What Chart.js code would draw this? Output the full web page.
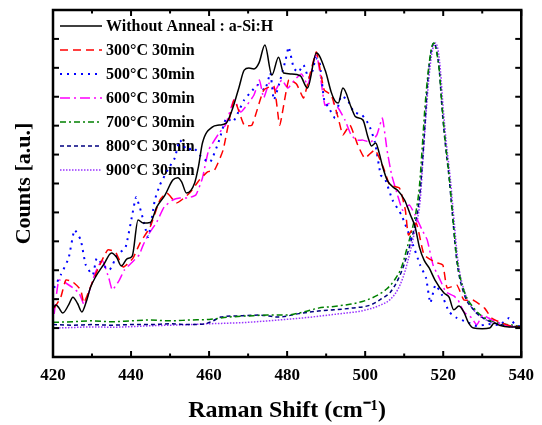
<!DOCTYPE html>
<html lang="en">
<head>
<meta charset="UTF-8">
<title>Raman spectra</title>
<style>
  html, body { margin: 0; padding: 0; background: #fff; }
  canvas { display: block; }
</style>
</head>
<body>
<canvas id="myChart" width="542" height="425"></canvas>
<script src="https://cdn.jsdelivr.net/npm/chart.js"></script>
<script>
// ---- data (Raman shift in cm-1, counts in a.u.) ----
const xMajorTicks = [420, 440, 460, 480, 500, 520, 540];
const xMinorTicks = [430, 450, 470, 490, 510, 530];
const yTicks = [0, 1, 2, 3, 4, 5, 6, 7, 8, 9, 10, 11, 12];

const labels = ['Without Anneal : a-Si:H', '300°C 30min', '500°C 30min', '600°C 30min',
                '700°C 30min', '800°C 30min', '900°C 30min'];

const noAnnealX = [420, 420.8, 421.5, 422.5, 424, 425.1, 426.3, 427.4, 428.5, 429.6, 430.9, 433, 435, 436.3, 437.5,
  439, 440.3, 441.8, 443.1, 444.9, 446.6, 448.7, 450.7, 452, 453, 454.2, 456.3, 457.3, 458.3, 460.8, 462.6, 464.4,
  465.9, 467.7, 469, 470.2, 471.5, 472.8, 474.3, 476.1, 477.8, 479.1, 481.1, 483.4, 485.2, 487.5, 489.8, 491.3,
  492.3, 493.1, 494.3, 496.4, 497.6, 499.4, 500.7, 501.6, 502.7, 503.6, 504.5, 505.7, 507.5, 508.3, 510.1, 511.6,
  512.8, 513.9, 515.1, 516.4, 517.9, 520.2, 521.5, 522.7, 524, 525.3, 526.5, 527.8, 530, 531.9, 533.1, 534.4,
  536.9, 540];
const noAnnealY = [1.7, 1.8, 1.7, 1.52, 1.8, 2.07, 1.85, 1.56, 1.9, 2.4, 2.77, 3.2, 3.6, 3.45, 3.15,
  3.4, 3.49, 4.74, 4.63, 4.65, 5.19, 5.6, 6.12, 6.2, 6.05, 5.67, 6.02, 6.6, 7.4, 7.95, 8.02, 8.09,
  8.54, 9.34, 9.92, 9.99, 9.96, 10.17, 10.79, 9.75, 10.37, 9.82, 9.79, 9.72, 9.3, 10.51, 9.9, 9.16,
  8.85, 8.78, 9.3, 8.64, 8.3, 8.2, 7.61, 7.3, 7.4, 7.05, 6.57, 6.1, 5.84, 5.77, 5.43, 4.91,
  4.5, 3.8, 3.35, 3.08, 2.66, 2.21, 2.07, 1.63, 1.76, 1.55, 1.18, 1.0, 0.98, 1.0, 1.18, 1.1,
  1.04, 1.04];

const c300X = [420.3, 422, 423.3, 425.1, 427.1, 427.9, 429.6, 431.4, 434, 436, 438, 440.5, 442.3, 444.9, 447.4,
  449.2, 451.7, 455, 457.5, 459.6, 461.4, 463.6, 466.4, 469, 471, 474, 476.6, 478.1, 480.4, 482.4, 484.2, 486,
  487.5, 489.5, 491.3, 493.1, 494.3, 496.1, 498.1, 499.9, 502.5, 504.7, 506.3, 508.8, 510.3, 511.1, 513.1, 515.1,
  517.9, 519.9, 521, 523.5, 525.3, 527.6, 530.6, 532.4, 534.9, 537.5, 540];
const c300Y = [1.69, 2.07, 2.66, 2.59, 2.32, 1.87, 2.42, 3.01, 3.7, 3.63, 3.11, 3.42, 3.94, 4.5, 5.43,
  5.67, 5.33, 5.67, 6.12, 6.4, 6.47, 7.16, 8.89, 8.02, 8.02, 9.23, 9.37, 8.02, 9.58, 9.44, 8.96, 9.85,
  10.55, 9.23, 9.06, 8.26, 7.68, 8.02, 7.33, 6.88, 7.16, 6.54, 5.95, 5.84, 5.08, 4.22, 4.63, 3.53,
  3.28, 3.18, 2.39, 2.49, 1.97, 1.97, 1.69, 1.35, 1.18, 1.07, 1.04];

const c500X = [420.3, 422, 424, 425.5, 427.1, 428.4, 430.2, 431.2, 432.8, 434.5, 436.5, 438.6, 440.3, 441.3, 442.6,
  444.4, 446.1, 447.4, 449.4, 451.2, 452.5, 454.3, 456.1, 458.3, 460.3, 462.6, 464.4, 466.1, 467.5, 469, 470.7,
  472.5, 474.3, 475.7, 476.6, 478.1, 479.6, 480.4, 481.7, 482.9, 484.2, 485.5, 486.6, 487.3, 488.3, 489.5, 491,
  492.3, 493.8, 495.5, 497.1, 499.2, 501, 502.5, 504, 505.2, 507, 509.3, 511.8, 514.1, 515.6, 516.7, 518, 519.7,
  521.5, 523.5, 526.1, 528.6, 531.6, 534.4, 536.9, 538.5, 540];
const c500Y = [2.39, 2.84, 3.42, 4.39, 4.05, 3.18, 2.84, 3.42, 3.18, 3.01, 3.53, 3.8, 4.91, 5.53, 5.01,
  4.15, 5.43, 5.95, 6.47, 6.88, 7.5, 7.16, 7.23, 6.88, 6.74, 7.5, 8.26, 8.13, 8.47, 8.89, 9.16,
  9.41, 9.23, 9.82, 8.89, 9.51, 10.27, 10.72, 9.99, 9.85, 10.1, 9.65, 9.92, 10.34, 10.2, 8.89, 8.54,
  8.26, 9.02, 8.89, 8.47, 8.37, 8.02, 7.43, 6.29, 6.12, 5.43, 4.91, 4.05, 3.18, 2.73, 1.87, 2.49, 2.14,
  1.56, 1.35, 1.21, 1.07, 1.14, 1.11, 1.35, 1.11, 1.04];

const c600X = [420.3, 421.5, 423.3, 425.1, 426.7, 428, 429.4, 430.9, 432.6, 434.3, 435.2, 437, 438.3, 440.3, 442.1,
  443.1, 444.4, 446.6, 448.5, 450.7, 452.5, 454.5, 456.6, 458.3, 459.9, 462.6, 464.2, 466.4, 468.1, 469.7, 471.5,
  472.9, 474, 475.4, 477, 478.6, 480.2, 481.9, 483.7, 485.3, 486.6, 487.5, 488.5, 489.7, 491.5, 493.1, 494.8,
  496.4, 497.8, 499.4, 501.4, 503, 504.4, 505.6, 506.8, 508.3, 509.6, 511.3, 512.8, 514.6, 515.9, 517.4, 519,
  520.7, 522.7, 523.8, 525.3, 527.3, 528.6, 530.1, 531.6, 533.6, 535.9, 538.3, 540];
const c600Y = [1.49, 2.66, 2.56, 2.39, 2.21, 1.8, 2.32, 2.94, 3.35, 2.73, 2.32, 2.66, 3.01, 3.28, 3.53,
  3.87, 4.22, 4.67, 5.19, 5.43, 5.5, 5.5, 5.6, 6.19, 7.16, 7.75, 8.02, 8.89, 8.47, 8.71, 9.06,
  9.58, 8.96, 9.47, 9.23, 9.58, 9.3, 9.58, 9.79, 9.41, 10.1, 10.51, 9.75, 8.71, 8.82, 8.61, 8.2,
  7.68, 7.5, 7.5, 7.43, 7.68, 8.26, 7.16, 6.29, 5.6, 5.08, 5.26, 4.91, 4.39, 4.05, 3.18, 2.73,
  2.25, 2.11, 1.97, 1.56, 1.35, 1.11, 1.45, 1.35, 1.21, 1.11, 1.04, 1.04];

const c700X = [420, 425, 430, 435, 440, 445, 450, 455, 460, 465, 470, 475, 479.6, 484, 488, 492, 496.4, 500,
  503.2, 505.5, 507.5, 509.3, 510.8, 512, 513, 513.9, 514.6, 515.3, 516.1, 516.9, 517.6, 518.3, 519, 519.7,
  520.5, 521.5, 522.3, 523.5, 525.3, 527.8, 531.1, 535.4, 540];
const c700Y = [1.2, 1.22, 1.25, 1.22, 1.25, 1.28, 1.25, 1.28, 1.3, 1.38, 1.42, 1.45, 1.45, 1.55, 1.69, 1.75, 1.83, 1.95,
  2.14, 2.35, 2.66, 3.1, 3.8, 4.4, 5.0, 5.9, 7.2, 8.6, 9.8, 10.6, 10.86, 10.55, 9.9, 8.7,
  7.5, 6.3, 5.1, 3.4, 2.3, 1.7, 1.32, 1.15, 1.06];

const c800X = [420, 425, 430, 435, 440, 445, 450, 455, 459, 461, 463, 467, 472.8, 477.8, 483, 488, 492, 496.4,
  501.4, 504, 506.5, 508.5, 510.1, 511.6, 512.8, 513.9, 514.6, 515.3, 516, 516.8, 517.6, 518.3, 519, 519.7,
  520.5, 521.5, 522.3, 523.5, 525.3, 527.8, 531.1, 535.4, 540];
const c800Y = [1.12, 1.1, 1.12, 1.1, 1.12, 1.12, 1.15, 1.12, 1.15, 1.25, 1.38, 1.42, 1.45, 1.38, 1.5, 1.59, 1.63, 1.69,
  1.8, 2.0, 2.25, 2.7, 3.25, 3.94, 4.6, 5.5, 6.6, 8.0, 9.5, 10.5, 10.86, 10.6, 9.9, 8.6,
  7.4, 6.2, 5.0, 3.3, 2.2, 1.63, 1.28, 1.11, 1.04];

const c900X = [420, 425, 430, 435, 440, 445, 450, 455, 460, 465, 470, 477.8, 484, 490.6, 495, 499, 504, 506.5,
  508.3, 509.7, 510.8, 512.6, 514.1, 514.8, 515.5, 516.3, 517.1, 518, 518.7, 519.3, 520, 520.8, 521.8, 522.6,
  523.8, 525.6, 528, 531.5, 535.5, 540];
const c900Y = [1.0, 1.02, 1.04, 1.03, 1.05, 1.08, 1.1, 1.12, 1.15, 1.17, 1.2, 1.28, 1.35, 1.45, 1.52, 1.59, 1.8, 2.0,
  2.32, 2.75, 3.25, 4.29, 5.43, 6.8, 8.2, 9.6, 10.5, 10.86, 10.6, 9.9, 8.6, 7.4, 6.2, 5.0,
  3.3, 2.2, 1.6, 1.25, 1.08, 1.02];

const serif = '"Liberation Serif", "Times New Roman", serif';

function pts(xs, ys) {
  return xs.map((x, i) => ({ x: x, y: ys[i] }));
}

function series(label, xs, ys, color, dash, width, smooth) {
  return {
    label: label,
    data: pts(xs, ys),
    borderColor: color,
    backgroundColor: color,
    borderDash: dash,
    borderWidth: width,
    pointRadius: 0,
    fill: false,
    tension: smooth ? 0.4 : 0.15,
    cubicInterpolationMode: smooth ? 'monotone' : 'default'
  };
}

// legend inside the plot, top-left, drawn under the curves
const legendPlugin = {
  id: 'insideLegend',
  beforeDatasetsDraw(chart) {
    const { ctx, chartArea: a } = chart;
    ctx.save();
    ctx.font = 'bold 16px ' + serif;
    ctx.textBaseline = 'middle';
    ctx.fillStyle = '#000';
    chart.data.datasets.forEach((ds, i) => {
      const yy = a.top + 16 + i * 24;
      ctx.strokeStyle = ds.borderColor;
      ctx.lineWidth = ds.borderWidth;
      ctx.setLineDash(ds.borderDash);
      ctx.beginPath();
      ctx.moveTo(a.left + 7, yy);
      ctx.lineTo(a.left + 49, yy);
      ctx.stroke();
      ctx.fillText(ds.label, a.left + 53, yy + 1);
    });
    ctx.restore();
  }
};

// frame with inward ticks on all four sides
const framePlugin = {
  id: 'frame',
  afterDatasetsDraw(chart) {
    const { ctx, chartArea: a, scales } = chart;
    const x = scales.x, y = scales.y;
    ctx.save();
    ctx.strokeStyle = '#000';
    ctx.lineWidth = 2;
    const seg = (x1, y1, x2, y2) => { ctx.beginPath(); ctx.moveTo(x1, y1); ctx.lineTo(x2, y2); ctx.stroke(); };
    xMajorTicks.forEach(v => {
      const px = x.getPixelForValue(v);
      seg(px, a.bottom, px, a.bottom - 6);
      seg(px, a.top, px, a.top + 6);
    });
    xMinorTicks.forEach(v => {
      const px = x.getPixelForValue(v);
      seg(px, a.bottom, px, a.bottom - 3.5);
      seg(px, a.top, px, a.top + 3.5);
    });
    yTicks.forEach(v => {
      const py = y.getPixelForValue(v);
      seg(a.left, py, a.left + 6, py);
      seg(a.right, py, a.right - 6, py);
    });
    ctx.lineWidth = 2.5;
    ctx.strokeRect(a.left, a.top, a.right - a.left, a.bottom - a.top);
    ctx.restore();
  }
};

const ctx = document.getElementById('myChart');
new Chart(ctx, {
  type: 'line',
  data: {
    datasets: [
      series(labels[0], noAnnealX, noAnnealY, '#000000', [], 1.5, true),
      series(labels[1], c300X, c300Y, '#ff0000', [8, 5], 1.5, false),
      series(labels[2], c500X, c500Y, '#0000ff', [2, 5], 2, false),
      series(labels[3], c600X, c600Y, '#ff00ff', [10, 4, 2, 4], 1.5, false),
      series(labels[4], c700X, c700Y, '#008000', [6, 3, 2, 3], 1.5, true),
      series(labels[5], c800X, c800Y, '#000080', [4, 3], 1.5, true),
      series(labels[6], c900X, c900Y, '#9933ff', [1.5, 1.5], 1.5, true)
    ]
  },
  options: {
    responsive: false,
    animation: false,
    devicePixelRatio: 1,
    layout: { padding: { top: 10, right: 17, left: 0, bottom: 0 } },
    scales: {
      x: {
        type: 'linear',
        min: 420,
        max: 540,
        grid: { display: false, drawTicks: false },
        border: { display: false },
        ticks: {
          stepSize: 20,
          padding: 8,
          color: '#000',
          font: { family: serif, size: 17, weight: 'bold' }
        },
        title: {
          display: true,
          text: 'Raman Shift (cm⁻¹)',
          color: '#000',
          font: { family: serif, size: 24, weight: 'bold' },
          padding: { top: 0, bottom: 0 }
        },
        afterFit(scale) { scale.height = 68; }
      },
      y: {
        min: 0,
        max: 12,
        grid: { display: false, drawTicks: false },
        border: { display: false },
        ticks: { display: false, stepSize: 1 },
        title: {
          display: true,
          text: 'Counts [a.u.]',
          color: '#000',
          font: { family: serif, size: 22, weight: 'bold' },
          padding: { top: 11, bottom: 0 }
        },
        afterFit(scale) { scale.width = 53; }
      }
    },
    plugins: {
      tooltip: { enabled: false },
      legend: { display: false }
    }
  },
  plugins: [legendPlugin, framePlugin]
});
</script>
</body>
</html>
